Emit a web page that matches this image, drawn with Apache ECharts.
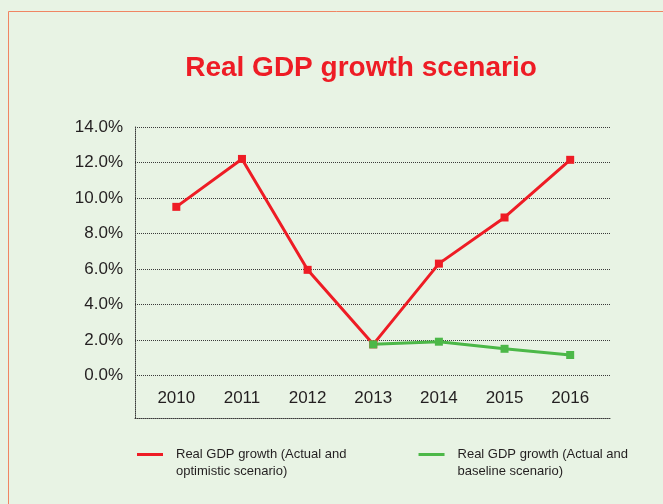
<!DOCTYPE html>
<html>
<head>
<meta charset="utf-8">
<script src="https://cdn.jsdelivr.net/npm/echarts@6/dist/echarts.min.js"></script>
<style>
  html, body { margin: 0; padding: 0; background: #e8f3e4; }
  #myChart { width: 663px; height: 504px; }
</style>
</head>
<body>
<div id="myChart"></div>
<script>
// data
var years = ["2010", "2011", "2012", "2013", "2014", "2015", "2016"];
var optimistic = [9.5, 12.2, 5.95, 1.75, 6.3, 8.9, 12.15];
var baseline = [null, null, null, 1.75, 1.9, 1.5, 1.15];
var yTicks = [0, 2, 4, 6, 8, 10, 12, 14];
var seriesNames = [
  "Real GDP growth (Actual and\noptimistic scenario)",
  "Real GDP growth (Actual and\nbaseline scenario)"
];

document.addEventListener("DOMContentLoaded", function () {
  var myChart = echarts.init(document.getElementById("myChart"));

  var dotted = { color: "#3a3a3a", type: [1, 1], width: 1 };
  var font = "Liberation Sans, Arial, Helvetica, sans-serif";

  var option = {
    backgroundColor: "#e8f3e4",
    animation: false,
    textStyle: { fontFamily: font },
    graphic: [
      {
        type: "rect",
        shape: { x: 8.5, y: 11.5, width: 700, height: 600 },
        style: { fill: "none", stroke: "#f08563", lineWidth: 1 }
      }
    ],
    title: {
      text: "Real GDP growth scenario",
      left: 356,
      textAlign: "center",
      top: 49,
      textStyle: { color: "#ee1c25", fontSize: 28, fontWeight: "bold", fontFamily: font }
    },
    legend: {
      left: 137,
      top: 429,
      padding: 0,
      itemWidth: 26,
      itemHeight: 3,
      itemGap: 72,
      icon: "rect",
      data: seriesNames,
      formatter: function (name) { return "\n" + name; },
      textStyle: {
        color: "#231f20",
        fontSize: 13,
        lineHeight: 17,
        padding: [0, 0, 0, 8],
        fontFamily: font
      }
    },
    // grid 0 carries the frame and gridlines, grid 1 the plotted lines
    grid: [
      { left: 135, right: 52, top: 127, bottom: 86 },
      { left: 143.5, right: 60, top: 127, bottom: 86 }
    ],
    xAxis: [
      {
        type: "category",
        gridIndex: 0,
        data: years,
        axisLine: { show: true, onZero: false, lineStyle: dotted },
        axisTick: { show: false },
        axisLabel: { show: false }
      },
      {
        type: "category",
        gridIndex: 1,
        data: years,
        axisLine: { show: false, onZero: false },
        axisTick: { show: false },
        axisLabel: { color: "#231f20", fontSize: 17, inside: true, margin: 11 }
      }
    ],
    yAxis: [
      {
        type: "value",
        gridIndex: 0,
        min: -2.4,
        max: 14,
        axisLine: { show: true, lineStyle: dotted },
        axisTick: { show: false, customValues: yTicks },
        splitLine: { show: true, lineStyle: dotted },
        axisLabel: {
          color: "#231f20",
          fontSize: 17,
          margin: 12,
          customValues: yTicks,
          formatter: function (v) { return v.toFixed(1) + "%"; }
        }
      },
      {
        type: "value",
        gridIndex: 1,
        min: -2.4,
        max: 14,
        show: false
      }
    ],
    series: [
      {
        name: seriesNames[0],
        type: "line",
        xAxisIndex: 1,
        yAxisIndex: 1,
        data: optimistic,
        color: "#ee1c25",
        symbol: "rect",
        symbolSize: 8,
        lineStyle: { width: 3 },
        itemStyle: { color: "#ee1c25" }
      },
      {
        name: seriesNames[1],
        type: "line",
        xAxisIndex: 1,
        yAxisIndex: 1,
        data: baseline,
        color: "#4cb848",
        symbol: "rect",
        symbolSize: 8,
        lineStyle: { width: 3 },
        itemStyle: { color: "#4cb848" }
      }
    ]
  };

  myChart.setOption(option);
});
</script>
</body>
</html>
